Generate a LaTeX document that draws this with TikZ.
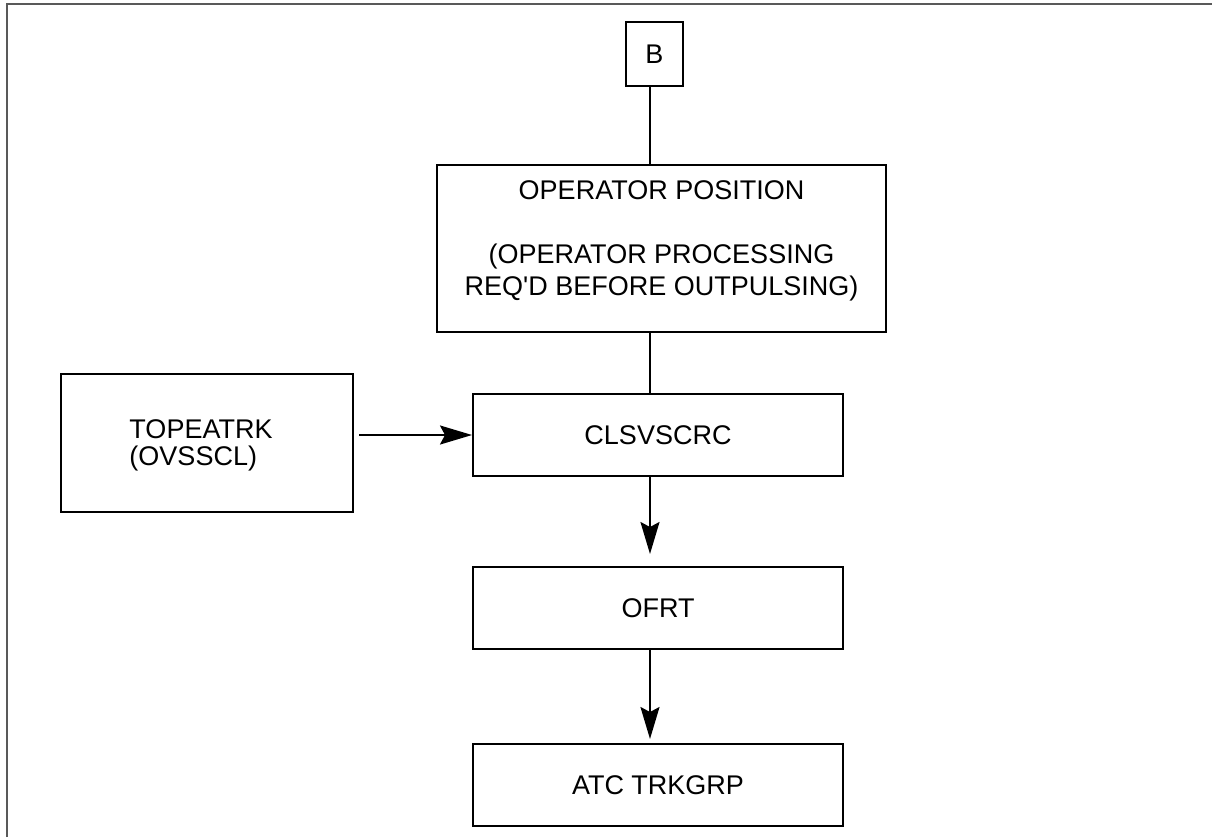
\documentclass[tikz,border=0pt]{standalone}
\usepackage{fontspec}
\setmainfont{Liberation Sans}
\usetikzlibrary{positioning,arrows.meta}

\begin{document}
\begin{tikzpicture}[box/.style={draw,line width=1pt,inner sep=0pt,minimum width=185pt,minimum height=41pt,font=\fontsize{13.5}{16}\selectfont},
						txt/.style={inner sep=0pt,font=\fontsize{13.5}{16}\selectfont},
						arr/.style={line width=1pt,-{Stealth[length=16pt,width=9.5pt,inset=2.5pt]}},
						line/.style={line width=1pt}]
		\useasboundingbox (0,0) rectangle (606pt,-418.5pt);
		\draw[gray!70!black,line width=1pt] (3.5pt,-418.5pt) -- (3.5pt,-2pt) -- (606pt,-2pt);
		\coordinate (s) at (325pt,0);

		\node[box,minimum width=28.5pt,minimum height=32pt]			(b)		at (327.25pt,-27pt) {B};
		\node[box,minimum width=224.5pt,minimum height=83.5pt,below=38.5pt of b,xshift=3.5pt]	(op)	{};
		\node[txt,align=center,yshift=4pt]							(optxt)	at (op) {OPERATOR POSITION\\[16pt](OPERATOR PROCESSING\\REQ\textquotesingle D BEFORE OUTPULSING)};
		\node[box,below=30pt of op,xshift=-1.75pt]					(cls)	{CLSVSCRC};
		\node[box,below=44.5pt of cls]								(ofrt)	{OFRT};
		\node[box,below=46.5pt of ofrt]								(atc)	{ATC TRKGRP};
		\node[box,minimum width=146pt,minimum height=69pt,left=59pt of cls,yshift=-3.75pt]	(topea)	{};
		\node[txt,align=left,font=\fontsize{13.5}{13.75}\selectfont,xshift=-3pt,yshift=-1.5pt]	(topeatxt)	at (topea) {TOPEATRK\\(OVSSCL)};

		\draw[line] (b.south -| s) -- (op.north -| s);
		\draw[line] (op.south -| s) -- (cls.north -| s);
		\draw[arr,shorten >=6pt] (cls.south -| s) -- (ofrt.north -| s);
		\draw[arr,shorten >=2pt] (ofrt.south -| s) -- (atc.north -| s);
		\draw[arr] ([xshift=2.5pt]topea.east |- cls) -- (cls.west);
	\end{tikzpicture}
\end{document}
